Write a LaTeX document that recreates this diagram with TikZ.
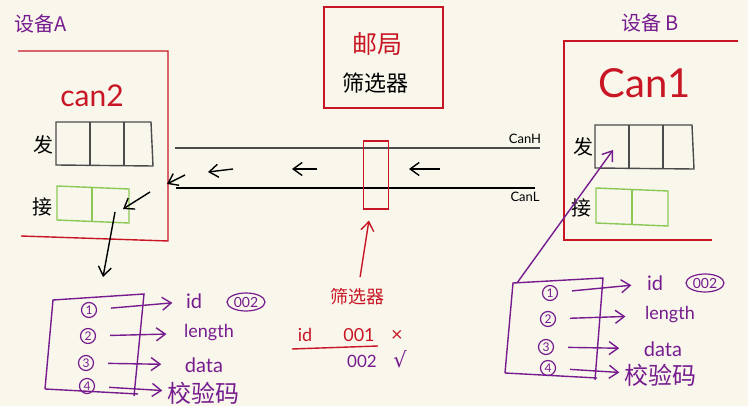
\documentclass[tikz,border=0pt]{standalone}
\usepackage{fontspec}
\setmainfont{Lato}
\newfontfamily\cjk{Noto Sans CJK SC}
\newfontfamily\sym{DejaVu Sans}
\usetikzlibrary{arrows.meta,shapes.geometric}
\definecolor{board}{RGB}{249,246,236}
\definecolor{inkred}{RGB}{200,22,36}
\definecolor{inkpurple}{RGB}{118,28,142}
\definecolor{inkgreen}{RGB}{140,200,85}
\definecolor{inkgray}{RGB}{75,75,75}

\begin{document}
\begin{tikzpicture}[x=1pt,y=-1pt,>={Straight Barb[length=9pt,width=13pt]},line width=1.4pt,
  lbl/.style={inner sep=1pt},
  han/.style={lbl,font=\cjk\fontsize{20}{20}\selectfont},
  sendbox/.style={draw=inkgray,line width=1.4pt},
  recvbox/.style={draw=inkgreen,line width=1.4pt},
  numc/.style={circle,draw=inkpurple,text=inkpurple,line width=1.2pt,inner sep=0pt,minimum size=15pt,font=\fontsize{12}{12}\selectfont},
  field/.style={lbl,text=inkpurple,font=\fontsize{18}{18}\selectfont},
  idmark/.style={ellipse,draw=inkpurple,text=inkpurple,line width=1.2pt,inner sep=0pt,minimum width=38pt,minimum height=18pt,font=\fontsize{14}{14}\selectfont},
  parr/.style={->,draw=inkpurple,shorten <=14pt}]

\fill[board] (0,0) rectangle (748,406);

% device A
  \node[han,text=inkpurple] (devA) at (41,24) {设备A};
  \draw[inkred] (18,51) -- (168,51) -- (168,241) -- (21,236);
  \node[lbl,text=inkred,font=\fontsize{30}{30}\selectfont] (canA) at (92,96) {can2};
  \node[han] (sendA) at (44,145) {发};
  \draw[sendbox] (56,122) -- (151,122) -- (153,166) -- (56,165) -- cycle;
  \draw[sendbox] (90,122) -- (90,165) (124,122) -- (124,166);
  \node[han] (recvA) at (42,207) {接};
  \draw[recvbox] (57,186) -- (129,189) -- (129,223) -- (57,220) -- cycle;
  \draw[recvbox] (92,188) -- (92,222);

% post office
  \draw[inkred] (324,7) rectangle (443,108);
  \node[lbl,text=inkred,font=\cjk\fontsize{25}{25}\selectfont] (post) at (377,44) {邮局};
  \node[lbl,font=\cjk\fontsize{22}{22}\selectfont] (filt) at (375,83) {筛选器};

% bus
  \coordinate (hL) at (175,148);
  \coordinate (hR) at (540,148);
  \coordinate (lL) at (176,188);
  \coordinate (lR) at (535,188);
  \draw[inkgray] (hL) -- (hR);
  \draw[black] (lL) -- (lR);
  \node[lbl,font=\fontsize{13}{13}\selectfont] (canH) at (525,139) {CanH};
  \node[lbl,font=\fontsize{13}{13}\selectfont] (canL) at (525,197) {CanL};
  \node[draw=inkred,minimum width=25pt,minimum height=68pt,inner sep=0pt] (fbox) at (376,175) {};

  \coordinate (m1s) at (440,169);
  \coordinate (m1e) at (409,169);
  \coordinate (m2s) at (317,169);
  \coordinate (m2e) at (292,169);
  \coordinate (m3s) at (233,169);
  \coordinate (m3e) at (208,172);
  \coordinate (inA) at (185,175);
  \coordinate (edgeA) at (167,184);
  \draw[->] (m1s) -- (m1e);
  \draw[->] (m2s) -- (m2e);
  \draw[->] (m3s) -- (m3e);
  \draw[->] (inA) -- (edgeA);

% receive side of A
  \coordinate (rxS) at (150,192);
  \coordinate (rxE) at (123,209);
  \coordinate (dnS) at (115,212);
  \coordinate (dnE) at (103,277);
  \draw[->] (rxS) -- (rxE);
  \draw[->] (dnS) -- (dnE);

% device B
  \node[han,text=inkpurple] (devB) at (650,23) {设备 B};
  \draw[inkred] (738,41) -- (564,41) -- (564,240) -- (712,240);
  \node[lbl,text=inkred,font=\fontsize{40}{40}\selectfont] (canB) at (645,83) {Can1};
  \node[han] (sendB) at (583,147) {发};
  \draw[sendbox] (595,125) -- (692,125) -- (694,169) -- (595,168) -- cycle;
  \draw[sendbox] (629,125) -- (629,168) (663,125) -- (663,169);
  \node[han] (recvB) at (581,208) {接};
  \draw[recvbox] (596,188) -- (668,191) -- (668,226) -- (596,223) -- cycle;
  \draw[recvbox] (632,190) -- (632,225);

% frame list A
  \draw[inkpurple] (45,389) -- (53,300) -- (144,294) -- (134,396);
  \draw[inkpurple] (45,389) -- (138,394);
  \node[numc] (a1) at (89,310) {1};
  \node[numc] (a2) at (88,336) {2};
  \node[numc] (a3) at (86,363) {3};
  \node[numc] (a4) at (87,386) {4};
  \node[field,font=\fontsize{20}{20}\selectfont] (idA) at (194,301) {id};
  \node[idmark] (oA) at (246,302) {002};
  \node[field] (lenA) at (209,333) {length};
  \node[field,font=\fontsize{20}{20}\selectfont] (datA) at (204,365) {data};
  \node[lbl,text=inkpurple,font=\cjk\fontsize{24}{24}\selectfont] (chkA) at (203,393) {校验码};

  \path[parr]
    (a1) edge [shorten >=12pt] (idA)
    (a2) edge [shorten >=16pt] (lenA)
    (a3) edge [shorten >=22pt] (datA)
    (a4) edge [shorten >=3pt]  (chkA);

% filter rule
  \node[lbl,text=inkred,font=\cjk\fontsize{18}{18}\selectfont] (fltLbl) at (357,297) {筛选器};
  \draw[->,inkred] (fltLbl) edge [shorten <=10pt,shorten >=11pt] (fbox);
  \node[lbl,text=inkred,font=\fontsize{18}{18}\selectfont] (rId) at (305,335) {id};
  \node[lbl,text=inkred,font=\fontsize{18}{18}\selectfont] (r001) at (359,335) {001};
  \node[lbl,text=inkred,font=\fontsize{20}{20}\selectfont] (rNo) at (397,336) {×};
  \draw[inkred] (292,349) -- (378,346);
  \node[lbl,text=inkpurple,font=\fontsize{17}{17}\selectfont] (r002) at (362,361) {002};
  \node[lbl,text=inkpurple,font=\sym\fontsize{21}{21}\selectfont] (rOk) at (400,359) {√};

% frame list B
  \draw[inkpurple] (505,373) -- (513,283) -- (603,278) -- (595,380);
  \draw[inkpurple] (505,373) -- (597,378);
  \coordinate (lbB) at (517,283);
  \coordinate (txB) at (613,150);
  \draw[->,inkpurple] (lbB) -- (txB);
  \node[numc] (b1) at (550,293) {1};
  \node[numc] (b2) at (548,319) {2};
  \node[numc] (b3) at (546,347) {3};
  \node[numc] (b4) at (548,368) {4};
  \node[field,font=\fontsize{20}{20}\selectfont] (idB) at (655,283) {id};
  \node[idmark] (oB) at (705,283) {002};
  \node[field] (lenB) at (670,315) {length};
  \node[field,font=\fontsize{20}{20}\selectfont] (datB) at (663,349) {data};
  \node[lbl,text=inkpurple,font=\cjk\fontsize{24}{24}\selectfont] (chkB) at (660,375) {校验码};

  \path[parr]
    (b1) edge [shorten >=14pt] (idB)
    (b2) edge [shorten >=18pt] (lenB)
    (b3) edge [shorten >=23pt] (datB)
    (b4) edge [shorten >=3pt]  (chkB);

\end{tikzpicture}
\end{document}
